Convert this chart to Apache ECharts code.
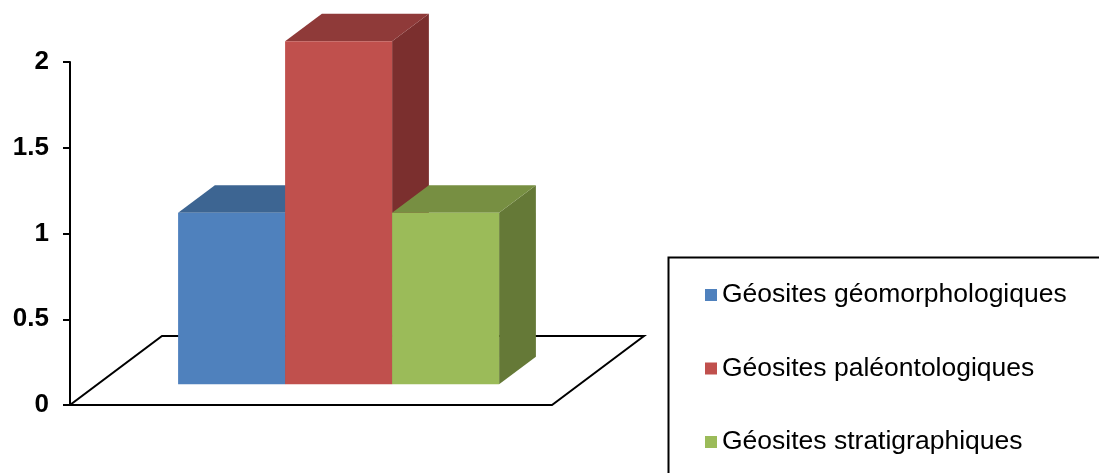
<!DOCTYPE html>
<html>
<head>
<meta charset="utf-8">
<script src="https://cdn.jsdelivr.net/npm/echarts@6/dist/echarts.min.js"></script>
<style>
  html, body { margin: 0; padding: 0; background: #ffffff; }
  #chart { width: 1099px; height: 473px; }
</style>
</head>
<body>
<div id="chart"></div>
<script>
// Data
const categories = ['Géosites'];
const seriesNames = ['Géosites géomorphologiques', 'Géosites paléontologiques', 'Géosites stratigraphiques'];
const seriesValues = [[1], [2], [1]];
const yMin = 0, yMax = 2, yStep = 0.5;

// Face colours for each box: front, top, right side
const palette = [
  { front: '#4F81BD', top: '#3D6592', side: '#34557C' },
  { front: '#C0504D', top: '#8F3A39', side: '#7B2F2E' },
  { front: '#9BBB59', top: '#778F42', side: '#657937' }
];

// Oblique projection of the floor depth (px) and where the boxes sit in it
const DEPTH = [92, -69];
const BOX_FRONT = 0.3, BOX_BACK = 0.7;
const BOX_WIDTH = 0.222;   // share of the category band per box

const chart = echarts.init(document.getElementById('chart'));

function floorRenderer(params, api) {
  const cs = params.coordSys;
  const y0 = api.coord([0, 0])[1];
  const x0 = cs.x, x1 = cs.x + cs.width;
  return {
    type: 'polygon',
    shape: { points: [[x0, y0], [x1, y0], [x1 + DEPTH[0], y0 + DEPTH[1]], [x0 + DEPTH[0], y0 + DEPTH[1]]] },
    style: { fill: '#ffffff', stroke: '#000000', lineWidth: 2 }
  };
}

function boxRenderer(si) {
  const pal = palette[si];
  const n = seriesNames.length;
  return function (params, api) {
    const cat = api.value(0);
    const top = api.coord([cat, api.value(1)]);
    const base = api.coord([cat, 0]);
    const band = api.size([1, 0])[0];
    const w = band * BOX_WIDTH;
    const x0 = top[0] + (si - n / 2) * w;
    const x1 = x0 + w;
    const f = [DEPTH[0] * BOX_FRONT, DEPTH[1] * BOX_FRONT];
    const b = [DEPTH[0] * BOX_BACK, DEPTH[1] * BOX_BACK];
    const yt = top[1], yb = base[1];
    const FL = [x0 + f[0], yt + f[1]], FR = [x1 + f[0], yt + f[1]];
    const FRB = [x1 + f[0], yb + f[1]];
    const BL = [x0 + b[0], yt + b[1]], BR = [x1 + b[0], yt + b[1]];
    const BRB = [x1 + b[0], yb + b[1]];
    return {
      type: 'group',
      children: [
        { type: 'polygon', shape: { points: [FR, BR, BRB, FRB] }, style: { fill: pal.side } },
        { type: 'polygon', shape: { points: [FL, FR, BR, BL] }, style: { fill: pal.top } },
        { type: 'rect', shape: { x: FL[0], y: FL[1], width: w, height: yb - yt }, style: { fill: pal.front } }
      ]
    };
  };
}

const series = [{
  type: 'custom',
  name: 'floor',
  silent: true,
  renderItem: floorRenderer,
  data: [[0, 0]],
  z: 1
}];
seriesNames.forEach(function (name, i) {
  series.push({
    type: 'custom',
    name: name,
    renderItem: boxRenderer(i),
    itemStyle: { color: palette[i].front },
    data: seriesValues[i].map(function (v, k) { return [k, v]; }),
    z: 2 + i
  });
});

chart.setOption({
  animation: false,
  backgroundColor: '#ffffff',
  grid: { left: 70, top: 62, right: 547, bottom: 68 },
  xAxis: {
    type: 'category',
    data: categories,
    show: false
  },
  yAxis: {
    type: 'value',
    min: yMin, max: yMax, interval: yStep,
    axisLine: { show: true, lineStyle: { color: '#000000', width: 2 } },
    axisTick: { show: true, length: 7, lineStyle: { color: '#000000', width: 2 } },
    splitLine: { show: false },
    axisLabel: {
      color: '#000000', fontSize: 26, fontWeight: 'bold',
      fontFamily: 'Liberation Sans, Arial, sans-serif', margin: 21
    }
  },
  // Legend frame runs off the right and bottom edges
  graphic: [{
    type: 'rect',
    left: 666, top: 255,
    shape: { width: 500, height: 300 },
    style: { fill: 'none', stroke: '#000000', lineWidth: 2 },
    silent: true
  }],
  legend: {
    data: seriesNames,
    orient: 'vertical',
    left: 667, top: 256,
    padding: [24, 0, 0, 38],
    itemGap: 43.5,
    itemWidth: 12, itemHeight: 12,
    icon: 'rect',
    selectedMode: false,
    textStyle: {
      color: '#000000', fontSize: 26.5, lineHeight: 30,
      fontFamily: 'Liberation Sans, Arial, sans-serif'
    }
  },
  series: series
});
</script>
</body>
</html>
